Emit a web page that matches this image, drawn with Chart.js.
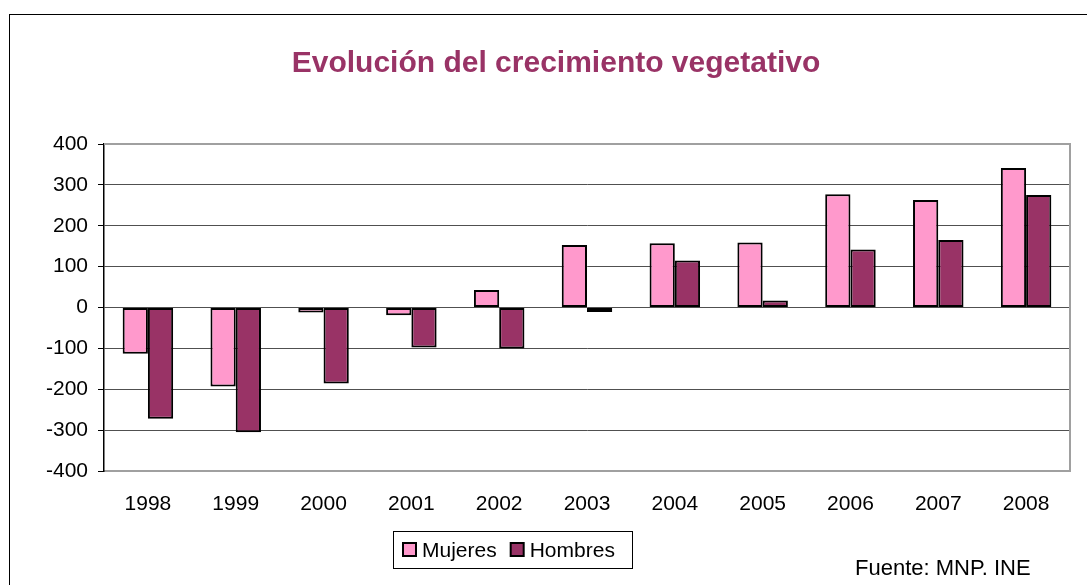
<!DOCTYPE html>
<html>
<head>
<meta charset="utf-8">
<script src="https://cdn.jsdelivr.net/npm/chart.js@4.4.1/dist/chart.umd.min.js"></script>
<style>
  html, body { margin: 0; padding: 0; background: #fff; }
  #wrap { position: relative; width: 1087px; height: 585px; overflow: hidden; }
  #frame { position: absolute; left: 9px; top: 14px; width: 1200px; height: 700px; border: 1.5px solid #000; }
  canvas { position: absolute; left: 0; top: 0; }
</style>
</head>
<body>
<div id="wrap">
  <div id="frame"></div>
  <canvas id="c" width="1087" height="585"></canvas>
</div>
<script>
const titleText = 'Evolución del crecimiento vegetativo';
const sourceText = 'Fuente: MNP. INE';
const categories = ['1998','1999','2000','2001','2002','2003','2004','2005','2006','2007','2008'];
const mujeres = [-113, -193, -12, -19, 43, 153, 157, 159, 277, 263, 341];
const hombres = [-272, -305, -186, -98, -100, -11, 115, 17, 142, 165, 275];
const seriesNames = ['Mujeres', 'Hombres'];
const seriesColors = ['#FF99CC', '#993366'];
const yMin = -400, yMax = 400, yStep = 100;

const FONT = "'Liberation Sans', Arial, sans-serif";

const decor = {
  id: 'decor',
  beforeDatasetsDraw(chart) {
    const ctx = chart.ctx, a = chart.chartArea;
    ctx.save();
    ctx.strokeStyle = '#A0A0A0';
    ctx.lineWidth = 2;
    ctx.beginPath();
    ctx.moveTo(a.left, a.top);
    ctx.lineTo(a.right, a.top);
    ctx.lineTo(a.right, a.bottom);
    ctx.stroke();
    ctx.restore();
  },
  afterDraw(chart) {
    const ctx = chart.ctx;
    ctx.save();
    // Title
    ctx.font = "bold 30px " + FONT;
    ctx.fillStyle = '#993366';
    ctx.textAlign = 'center';
    ctx.textBaseline = 'alphabetic';
    ctx.fillText(titleText, 556, 72);
    // Legend
    ctx.strokeStyle = '#000';
    ctx.lineWidth = 1;
    ctx.strokeRect(393.5, 531.5, 239, 37);
    ctx.font = "21px " + FONT;
    ctx.textAlign = 'left';
    ctx.textBaseline = 'alphabetic';
    const items = chart.data.datasets;
    let x = 403;
    items.forEach((ds) => {
      ctx.fillStyle = ds.backgroundColor;
      ctx.fillRect(x, 543, 13, 13);
      ctx.lineWidth = 2;
      ctx.strokeStyle = '#000';
      ctx.strokeRect(x, 543, 13, 13);
      ctx.fillStyle = '#000';
      ctx.fillText(ds.label, x + 19, 557);
      x += 19 + ctx.measureText(ds.label).width + 14;
    });
    // Source
    ctx.font = "22px " + FONT;
    ctx.fillStyle = '#000';
    ctx.fillText(sourceText, 855, 575);
    ctx.restore();
  }
};

new Chart(document.getElementById('c'), {
  type: 'bar',
  data: {
    labels: categories,
    datasets: [
      { label: seriesNames[0], data: mujeres, backgroundColor: seriesColors[0], borderColor: '#000', borderWidth: 2, borderSkipped: false },
      { label: seriesNames[1], data: hombres, backgroundColor: seriesColors[1], borderColor: '#000', borderWidth: 2, borderSkipped: false }
    ]
  },
  options: {
    responsive: false,
    animation: false,
    devicePixelRatio: 1,
    layout: { padding: { left: 0, right: 17, top: 144, bottom: 0 } },
    datasets: { bar: { categoryPercentage: 0.575, barPercentage: 1.0 } },
    plugins: { legend: { display: false }, title: { display: false }, tooltip: { enabled: false } },
    scales: {
      x: {
        afterFit(s) { s.height = 114; },
        grid: { display: false, drawTicks: false },
        border: { display: true, color: '#A0A0A0', width: 2 },
        ticks: { color: '#000', font: { family: FONT, size: 21 }, padding: 21, maxRotation: 0 }
      },
      y: {
        min: yMin, max: yMax,
        afterFit(s) { s.width = 104; },
        grid: {
          color: (c) => (c.tick && (c.tick.value === yMin || c.tick.value === yMax)) ? 'rgba(0,0,0,0)' : '#505050',
          tickColor: '#000',
          tickLength: 6,
          lineWidth: 1
        },
        border: { display: true, color: '#000', width: 1.5 },
        ticks: { stepSize: yStep, color: '#000', font: { family: FONT, size: 21 }, padding: 10 }
      }
    }
  },
  plugins: [decor]
});
</script>
</body>
</html>
